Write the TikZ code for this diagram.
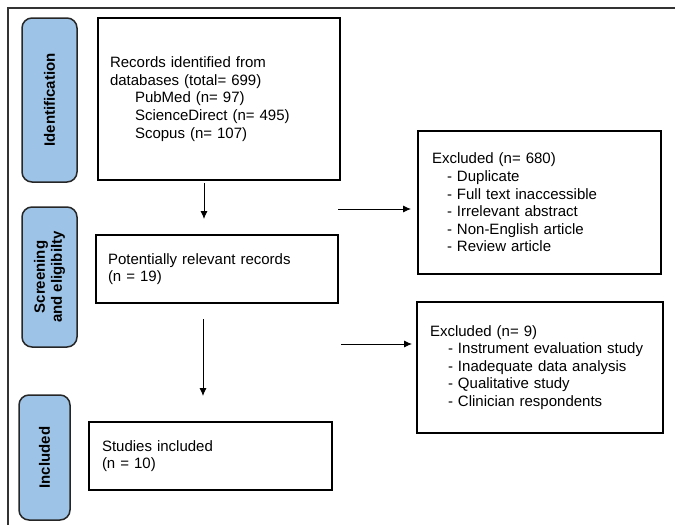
\documentclass[tikz,border=0pt]{standalone}
\usepackage{fontspec}
\setmainfont{Liberation Sans}
\usepackage{xcolor}
\usetikzlibrary{arrows.meta}
\definecolor{labblue}{RGB}{157,195,230}

\begin{document}
\begin{tikzpicture}[x=1pt,y=-1pt,
        box/.style = {shape=rectangle, draw, line width=1.2pt,
          align=left, inner xsep=12pt, inner ysep=0pt,
          font=\fontsize{15pt}{17.6pt}\selectfont},
        lab/.style = {shape=rectangle, rounded corners=10pt,
          draw=black!85, line width=1.5pt, fill=labblue, align=center,
          rotate=90, inner sep=0pt,
          font=\fontsize{15pt}{17pt}\selectfont\bfseries},
        arr/.style = {line width=0.9pt, -{Latex[length=8pt,width=7pt]}}]
        \useasboundingbox (0,0) rectangle (675,525);
        \draw[line width=1.6pt, black!80] (8,525) -- (8,8) -- (675,8);

        \node[lab, minimum width=164pt, minimum height=55pt] (ident) at (49.5,100) {Identification};
        \node[lab, minimum width=140pt, minimum height=55pt] (screen) at (49.5,277) {Screening\\and eligibilty};
        \node[lab, minimum width=125pt, minimum height=51pt] (incl) at (44.5,457.5) {Included};

        \node[box, text width=218pt, minimum height=162pt] (records) at (219,99)
            {Records identified from\\databases (total= 699)\\
             \hspace*{25pt}PubMed (n= 97)\\
             \hspace*{25pt}ScienceDirect (n= 495)\\
             \hspace*{25pt}Scopus (n= 107)};
        \node[box, text width=218pt, minimum height=68pt] (relevant) at (217,269)
            {Potentially relevant records\\(n = 19)};
        \node[box, text width=217pt, inner xsep=13pt, minimum height=68pt] (studies) at (210.5,456)
            {Studies included\\(n = 10)};
        \node[box, text width=215pt, inner xsep=14pt, minimum height=143pt] (excla) at (539.5,202.5)
            {Excluded (n= 680)\\
             \hspace*{15pt}- Duplicate\\
             \hspace*{15pt}- Full text inaccessible\\
             \hspace*{15pt}- Irrelevant abstract\\
             \hspace*{15pt}- Non-English article\\
             \hspace*{15pt}- Review article};
        \node[box, text width=220pt, inner xsep=13pt, minimum height=131pt] (exclb) at (540,367.5)
            {Excluded (n= 9)\\
             \hspace*{18pt}- Instrument evaluation study\\
             \hspace*{18pt}- Inadequate data analysis\\
             \hspace*{18pt}- Qualitative study\\
             \hspace*{18pt}- Clinician respondents};

        \coordinate (downa) at (204,183);
        \coordinate (downb) at (204,219);
        \coordinate (downc) at (203,319);
        \coordinate (downd) at (203,396);
        \coordinate (righta) at (338,209);
        \coordinate (rightb) at (411,209);
        \coordinate (rightc) at (341,344);
        \coordinate (rightd) at (412,344);
        \draw[arr] (downa) -- (downb);
        \draw[arr] (downc) -- (downd);
        \draw[arr] (righta) -- (rightb);
        \draw[arr] (rightc) -- (rightd);
      \end{tikzpicture}
\end{document}
